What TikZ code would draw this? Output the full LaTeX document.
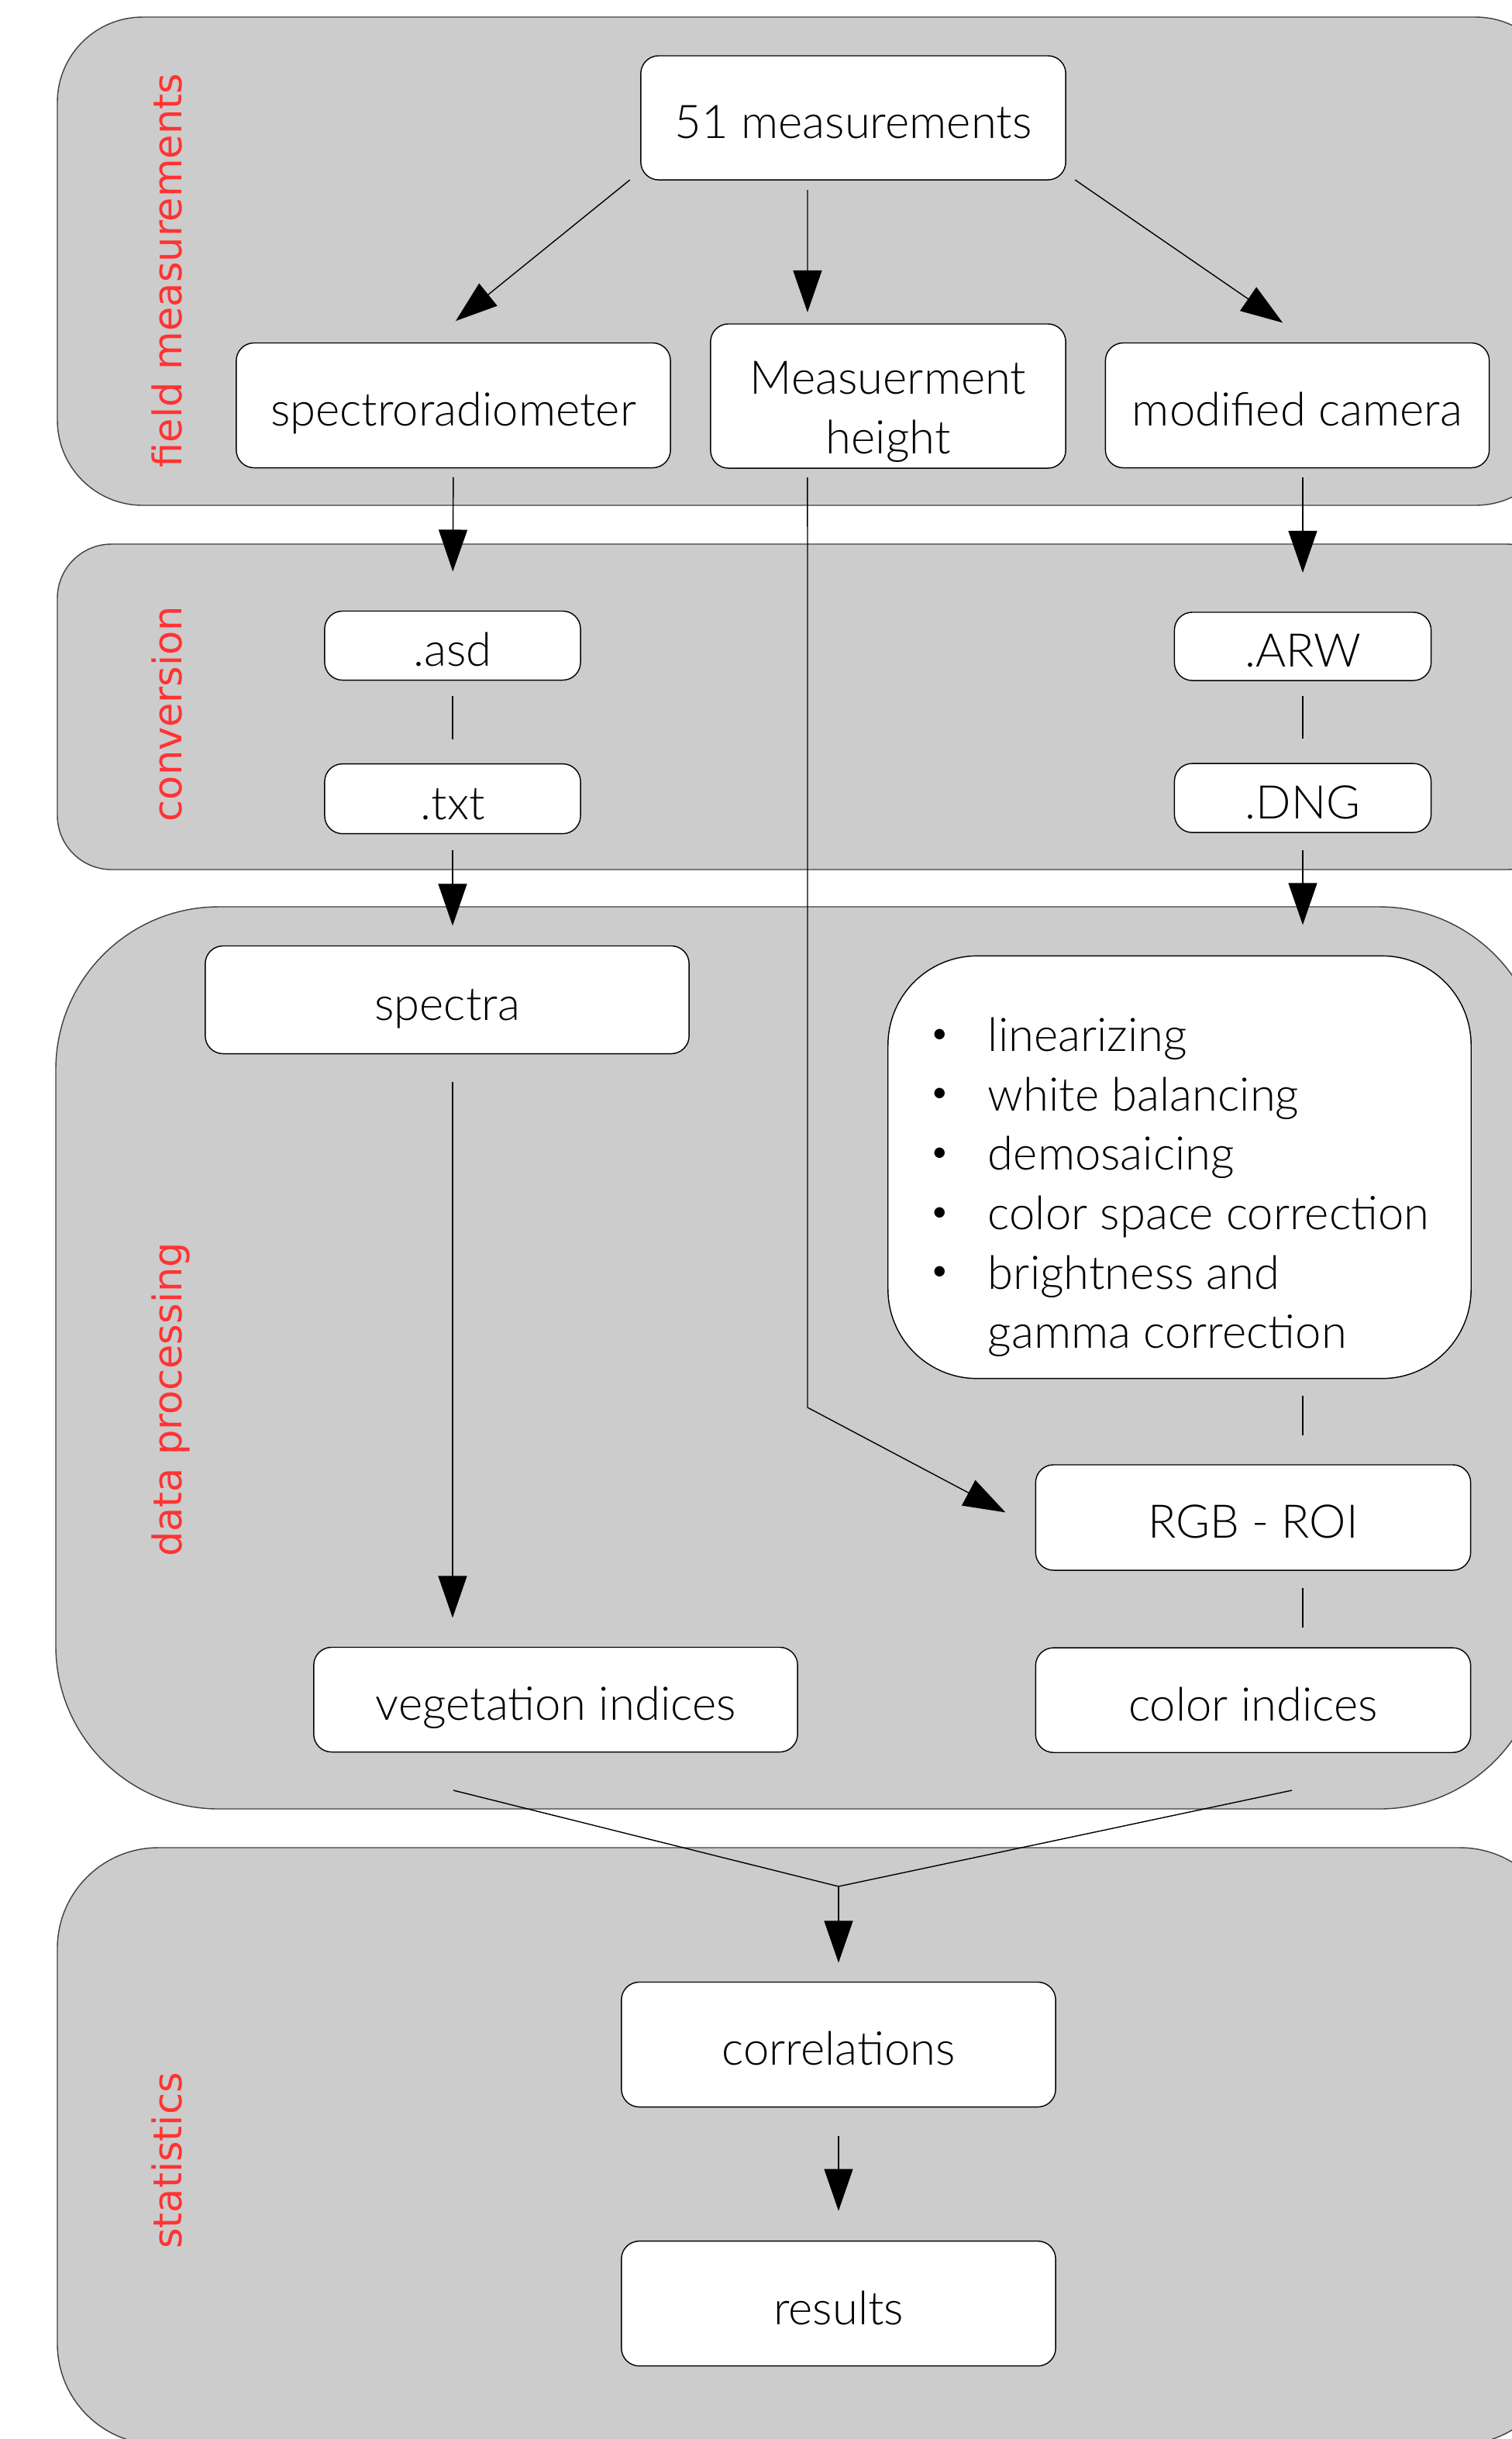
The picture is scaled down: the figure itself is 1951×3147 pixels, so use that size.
\documentclass[tikz,border=0pt]{standalone}
\usepackage{fontspec}
\IfFontExistsTF{Lato Light}{\setmainfont{Lato Light}}{\setmainfont{Lato}}
\newfontfamily\stagefont{DejaVu Sans}
\usetikzlibrary{positioning,arrows.meta}
\definecolor{stagegray}{HTML}{CCCCCC}
\definecolor{stagered}{HTML}{FF3333}
\newcommand{\stepdot}{\makebox[0.75cm][l]{\raisebox{2.3pt}{\fontsize{13}{13}\selectfont\textbullet}}}

\begin{document}
\begin{tikzpicture}[x=0.01cm, y=-0.01cm,
    stagebg/.style={draw=black!75, fill=stagegray, line width=0.4pt},
    stagename/.style={rotate=90, anchor=base, text=stagered, font=\stagefont\fontsize{14.5}{17}\selectfont},
    procbox/.style={draw, fill=white, rounded corners=0.23cm, inner sep=0pt, outer sep=0pt, line width=0.4pt, font=\fontsize{17}{21.8}\selectfont, align=center},
    onebox/.style={procbox, text height=15.3pt, text depth=0pt},
    arr/.style={-{Triangle[length=0.54cm,width=0.37cm]}, line width=0.4pt},
    plainline/.style={line width=0.4pt}]
    \useasboundingbox (0,0) rectangle (1951,3147);
    \draw[stagebg, rounded corners=1.1cm] (74,22) rectangle (2014,652);
    \draw[stagebg, rounded corners=0.7cm] (74,702) rectangle (2014,1122);
    \draw[stagebg, rounded corners=2.1cm] (72,1170) rectangle (1990,2334);
    \draw[stagebg, rounded corners=1.3cm] (74,2384) rectangle (2014,3154);

    \node[stagename] (lblfield) at (234,349) {field measurements};
    \node[stagename] (lblconv) at (234,921) {conversion};
    \node[stagename] (lblproc) at (234,1806) {data processing};
    \node[stagename] (lblstat) at (234,2788) {statistics};

    \node[onebox, minimum width=5.48cm, minimum height=1.6cm] (meas51) at (1101,152) {51 measurements};
    \node[onebox, minimum width=5.6cm, minimum height=1.61cm] (spectro) at (585,523) {spectroradiometer};
    \node[procbox, minimum width=4.58cm, minimum height=1.86cm] (hgt) at (1146,511) {\rule{0pt}{0.83cm}Measuerment\\height};
    \node[onebox, minimum width=4.95cm, minimum height=1.61cm] (camera) at (1674,523) {modified camera};
    \node[onebox, minimum width=3.3cm, minimum height=0.89cm] (asd) at (584,833) {.asd};
    \node[onebox, minimum width=3.3cm, minimum height=0.9cm, below=1.08cm of asd] (txt) {.txt};
    \node[onebox, minimum width=3.31cm, minimum height=0.88cm] (arw) at (1681,834) {.ARW};
    \node[onebox, minimum width=3.31cm, minimum height=0.89cm, below=1.07cm of arw] (dng) {.DNG};
    \node[onebox, minimum width=6.24cm, minimum height=1.39cm] (spectra) at (577,1290) {spectra};
    \node[procbox, rounded corners=1.15cm, align=left, minimum width=7.52cm, minimum height=5.45cm] (steps) at (1522,1506)
        {\rule{0pt}{0.95cm}\stepdot linearizing\\
         \stepdot white balancing\\
         \stepdot demosaicing\\
         \stepdot color space correction\\
         \stepdot brightness and\\
         \makebox[0.75cm][l]{}gamma correction};
    \node[onebox, minimum width=5.61cm, minimum height=1.36cm] (rgb) at (1617,1958) {RGB - ROI};
    \node[onebox, minimum width=5.61cm, minimum height=1.35cm, below=1.0cm of rgb] (colidx) {color indices};
    \node[onebox, minimum width=6.24cm, minimum height=1.35cm] (vegidx) at (717,2193) {vegetation indices};
    \node[onebox, minimum width=5.6cm, minimum height=1.61cm] (corr) at (1082,2638) {correlations};
    \node[onebox, minimum width=5.6cm, minimum height=1.61cm, below=1.73cm of corr] (results) {results};

    \coordinate (hbend) at (1042,1816);
    \coordinate (vegout) at (585,2310);
    \coordinate (colout) at (1667,2310);
    \coordinate (merge) at (1082,2434);

    \draw[arr, shorten >=0.45cm] ([xshift=-0.14cm]meas51.south west) -- ([xshift=-0.32cm]spectro.north);
    \draw[arr, shorten <=0.13cm, shorten >=0.15cm] ([xshift=-0.59cm]meas51.south) -- ([xshift=-1.04cm]hgt.north);
    \draw[arr, shorten >=0.46cm] ([xshift=0.12cm]meas51.south east) -- ([xshift=0.19cm]camera.north);
    \draw[arr, shorten <=0.12cm, shorten >=0.51cm] (spectro.south) -- (asd.north);
    \draw[arr, shorten <=0.12cm, shorten >=0.51cm] (camera.south -| arw.north) -- (arw.north);
    \draw[arr, shorten <=0.12cm, shorten >=0.44cm] ([xshift=-1.04cm]hgt.south) -- (hbend) -- ([yshift=-0.14cm]rgb.west);
    \draw[plainline, shorten <=0.2cm, shorten >=0.32cm] (asd.south) -- (txt.north);
    \draw[plainline, shorten <=0.2cm, shorten >=0.32cm] (arw.south) -- (dng.north);
    \draw[arr, shorten <=0.21cm, shorten >=0.26cm] (txt.south) -- (txt.south |- spectra.north);
    \draw[arr, shorten <=0.23cm, shorten >=0.4cm] (dng.south) -- (dng.south |- steps.north);
    \draw[plainline, shorten <=0.22cm, shorten >=0.38cm] (steps.south -| dng.south) -- (rgb.north -| dng.south);
    \draw[plainline, shorten <=0.23cm, shorten >=0.26cm] (rgb.south -| dng.south) -- (colidx.north -| dng.south);
    \draw[arr, shorten <=0.36cm, shorten >=0.38cm] (txt.south |- spectra.south) -- (txt.south |- vegidx.north);
    \draw[plainline] (vegout) -- (merge) -- (colout);
    \draw[arr, shorten >=0.25cm] (merge) -- (corr.north);
    \draw[arr, shorten <=0.37cm, shorten >=0.39cm] (corr.south) -- (results.north);
\end{tikzpicture}
\end{document}
